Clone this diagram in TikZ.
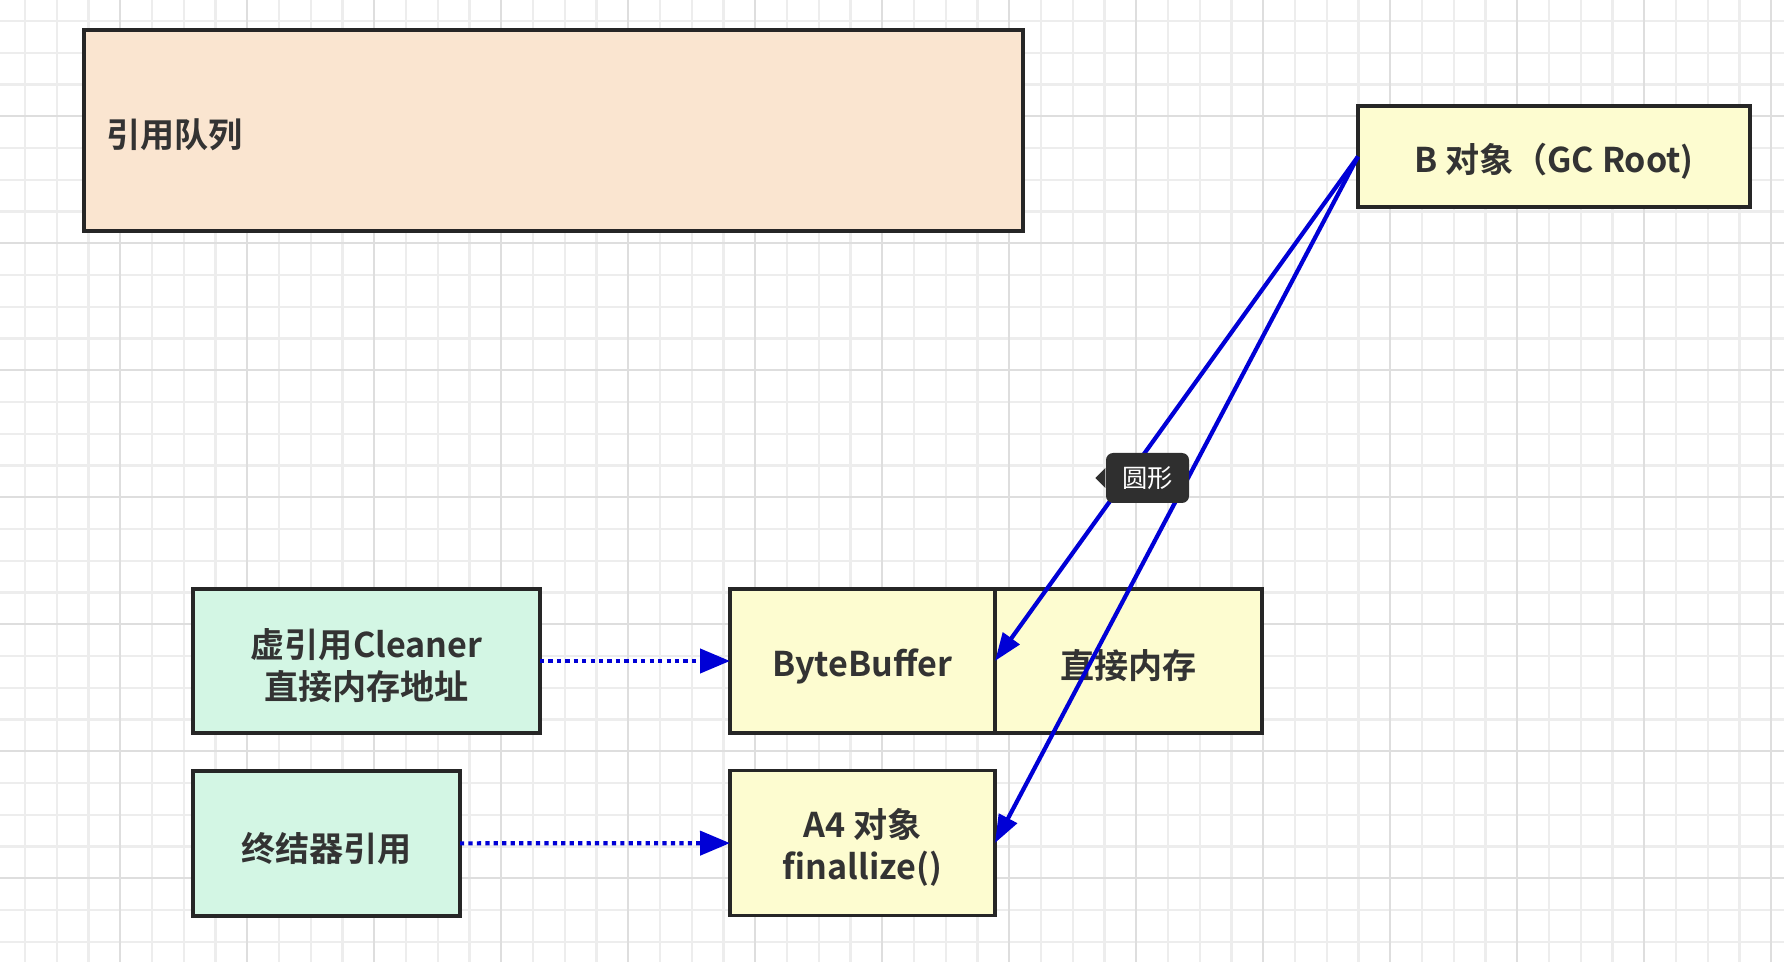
\documentclass[tikz,border=0pt]{standalone}
\usepackage{fontspec}
\setmainfont{Noto Sans CJK SC}[BoldFont={Noto Sans CJK SC Bold}]
\usetikzlibrary{positioning,arrows.meta}
\definecolor{queuecol}{HTML}{FAE5D0}
\definecolor{objcol}{HTML}{FDFCD0}
\definecolor{refcol}{HTML}{D3F6E4}
\definecolor{linkblue}{HTML}{0000D6}
\definecolor{gridminor}{HTML}{EDEDED}
\definecolor{gridmajor}{HTML}{DEDEDE}
\definecolor{tipcol}{HTML}{2F2F2F}
\newcommand{\lowstrut}{\rule{0pt}{10.9pt}}
\tikzset{
    box/.style={draw=black!85, line width=1pt, outer sep=0pt, inner sep=0pt, align=center,
        text=black!80, font=\bfseries\fontsize{9.7}{11.9}\selectfont,
        execute at begin node={\lowstrut}},
    queuebox/.style={box, fill=queuecol},
    objbox/.style={box, fill=objcol},
    refbox/.style={box, fill=refcol},
    refarrow/.style={linkblue, line width=1.2pt, dash pattern=on 1.2pt off 1.2pt, -{Triangle[length=0.3cm,width=0.24cm]}},
    rootarrow/.style={linkblue, line width=1.2pt, -{Triangle[length=0.28cm,width=0.2cm]}},
    tipbox/.style={fill=tipcol, rounded corners=2pt, text=white, minimum width=0.83cm, minimum height=0.5cm,
        inner sep=0pt, font=\fontsize{7.2}{8}\selectfont}
}
\begin{document}
\begin{tikzpicture}
    \useasboundingbox (0,0) rectangle (17.84,-9.62);
    \fill[white] (0,0) rectangle (17.84,-9.62);
    % background grid
    \begin{scope}[shift={(1.2025,-1.1625)}]
        \draw[step=0.3175cm, gridminor, line width=0.6pt] (-1.2025,1.1625) grid (16.6375,-8.4575);
        \draw[step=1.27cm, gridmajor, line width=0.6pt] (-1.2025,1.1625) grid (16.6375,-8.4575);
    \end{scope}
    % boxes
    \node[queuebox, minimum width=9.39cm, minimum height=2.01cm, text width=8.95cm, inner xsep=0.22cm, align=left] (queue) at (5.535,-1.305) {引用队列};
    \node[objbox, minimum width=3.92cm, minimum height=1.01cm] (root) at (15.54,-1.565) {B 对象（GC Root)};
    \node[refbox, minimum width=3.47cm, minimum height=1.44cm] (cleaner) at (3.665,-6.61) {\lowstrut 虚引用Cleaner\\直接内存地址};
    \node[refbox, minimum width=2.67cm, minimum height=1.45cm] (finref) at (3.265,-8.435) {终结器引用};
    \node[objbox, minimum width=2.65cm, minimum height=1.44cm] (bytebuf) at (8.625,-6.61) {ByteBuffer};
    \node[objbox, minimum width=2.67cm, minimum height=1.44cm, right=0pt of bytebuf] (direct) {直接内存};
    \node[objbox, minimum width=2.65cm, minimum height=1.45cm, below=0.375cm of bytebuf] (a4) {\lowstrut A4 对象\\finallize()};
    % references
    \draw[refarrow] (cleaner) -- (bytebuf);
    \draw[refarrow] (finref) -- (a4);
    \draw[rootarrow] (root.west) -- (bytebuf.east);
    \draw[rootarrow] (root.west) -- (a4.east);
    % tooltip
    \node[tipbox] (tip) at (11.475,-4.78) {圆形};
    \fill[tipcol] ([yshift=1mm]tip.west) -- ([xshift=-1mm]tip.west) -- ([yshift=-1mm]tip.west) -- cycle;
\end{tikzpicture}
\end{document}
